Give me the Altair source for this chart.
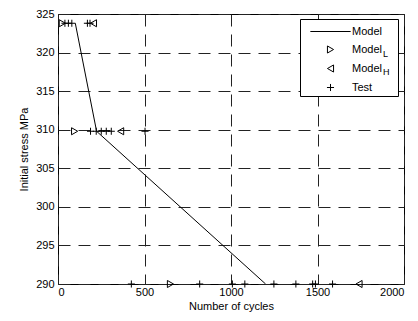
import altair as alt
import pandas as pd

# ---- data ----
model_cycles = [100, 223, 1200]
model_stress = [323.8, 309.8, 290.0]

marker_stress = [323.8, 309.8, 290.0]
modelL_cycles = [25, 96, 650]
modelH_cycles = [205, 362, 1740]

test_top = [40, 60, 80, 170, 185]
test_mid = [188, 221, 250, 279, 308, 503]
test_bottom = [424, 819, 1008, 1080, 1248, 1375, 1472, 1488, 1587]

series_names = ["Model", "ModelL", "ModelH", "Test"]
x_ticks = [0, 500, 1000, 1500, 2000]
y_ticks = [290, 295, 300, 305, 310, 315, 320, 325]

FONT = "Liberation Sans"

model_df = pd.DataFrame({"cycles": model_cycles, "stress": model_stress})

rows = []
for c, s in zip(modelL_cycles, marker_stress):
    rows.append({"cycles": c, "stress": s, "series": "ModelL"})
for c, s in zip(modelH_cycles, marker_stress):
    rows.append({"cycles": c, "stress": s, "series": "ModelH"})
for c in test_top:
    rows.append({"cycles": c, "stress": marker_stress[0], "series": "Test"})
for c in test_mid:
    rows.append({"cycles": c, "stress": marker_stress[1], "series": "Test"})
for c in test_bottom:
    rows.append({"cycles": c, "stress": marker_stress[2], "series": "Test"})
pts_df = pd.DataFrame(rows)

x_enc = alt.X("cycles:Q", scale=alt.Scale(domain=[0, 2000], nice=False),
              axis=alt.Axis(values=x_ticks, format="d", title="Number of cycles",
                            titlePadding=3, labelPadding=2))
y_enc = alt.Y("stress:Q", scale=alt.Scale(domain=[290, 325], nice=False, zero=False),
              axis=alt.Axis(values=y_ticks, title="Initial stress MPa", titlePadding=6,
                            labelPadding=4))

line_layer = alt.Chart(model_df).mark_line(color="black", strokeWidth=1, clip=True).encode(
    x=x_enc, y=y_enc
)

shapes = ["M-5.7,0H5.7", "triangle-right", "triangle-left", "M-1,0H1M0,-1V1"]

# legend frame (white box) drawn as a mark so the subscripts can sit on top
box_df = pd.DataFrame({"k": [0]})
legend_box = alt.Chart(box_df).mark_rect(fill="white", stroke="black", strokeWidth=1).encode(
    x=alt.value(242.5), x2=alt.value(340.5), y=alt.value(5.5), y2=alt.value(82.5)
)

pts_layer = alt.Chart(pts_df).mark_point(filled=False, color="black", size=50,
                                          strokeWidth=1, clip=False, opacity=1).encode(
    x=x_enc, y=y_enc,
    shape=alt.Shape("series:N", scale=alt.Scale(domain=series_names, range=shapes),
                    legend=alt.Legend(
                        title=None, orient="none", legendX=243, legendY=6,
                        direction="vertical",
                        padding=6, rowPadding=6,
                        symbolOffset=18, labelOffset=16,
                        symbolSize=50, symbolStrokeWidth=1,
                        symbolStrokeColor="black", symbolFillColor="transparent",
                        labelFont=FONT, labelFontSize=11, labelColor="black",
                        labelExpr="datum.label == 'ModelL' || datum.label == 'ModelH' ? 'Model' : datum.label",
                    ))
)

sub_df = pd.DataFrame({"t": ["L", "H"]})
sub_L = alt.Chart(sub_df).transform_filter("datum.t == 'L'").mark_text(
    font=FONT, fontSize=9, color="black", align="left", baseline="middle"
).encode(text="t:N", x=alt.value(325), y=alt.value(40))
sub_H = alt.Chart(sub_df).transform_filter("datum.t == 'H'").mark_text(
    font=FONT, fontSize=9, color="black", align="left", baseline="middle"
).encode(text="t:N", x=alt.value(325), y=alt.value(58))

chart = alt.layer(line_layer, pts_layer, legend_box, sub_L, sub_H).properties(
    width=346, height=270,
    background="white",
    autosize=alt.AutoSizeParams(type="none"),
    padding={"left": 58, "top": 14, "right": 14, "bottom": 37},
).configure_view(
    stroke="black", strokeWidth=1
).configure_axis(
    grid=True, gridColor="#222", gridDash=[12, 8], gridWidth=1, gridOpacity=1,
    domain=False, ticks=False,
    labelFont=FONT, labelFontSize=11, labelColor="black",
    titleFont=FONT, titleFontSize=11, titleFontWeight="normal", titleColor="black",
)

chart.save("out.html", embed_options={"renderer": "svg", "actions": False})
